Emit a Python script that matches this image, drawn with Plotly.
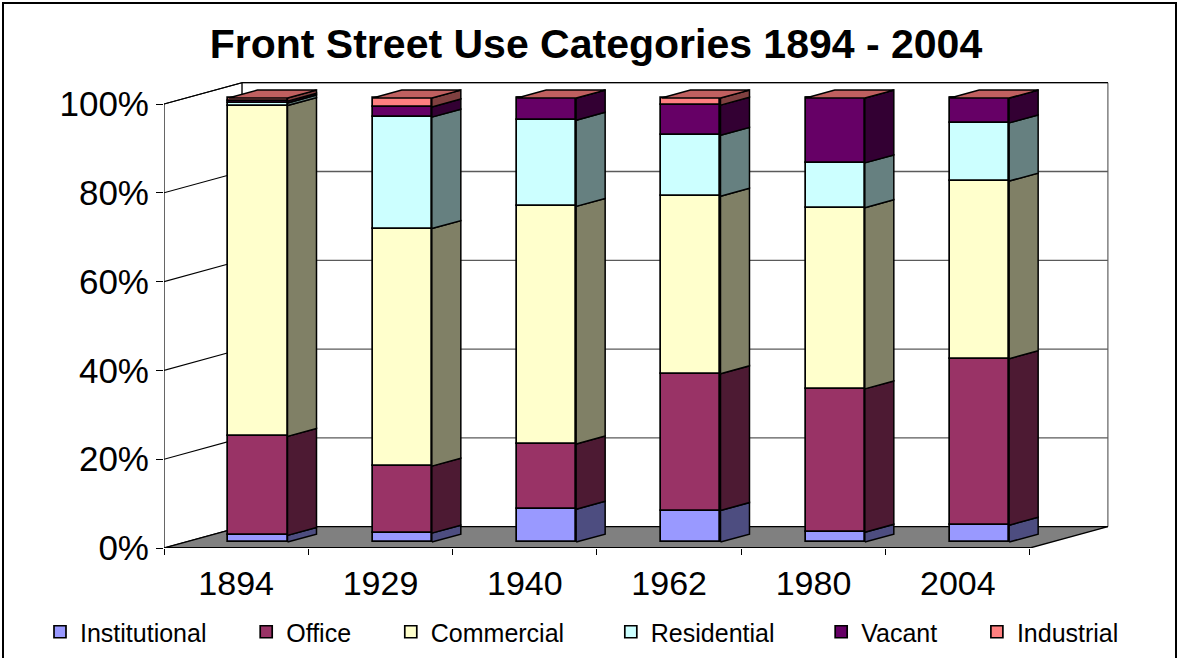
import plotly.graph_objects as go

# ---------------- data ----------------
years = ["1894", "1929", "1940", "1962", "1980", "2004"]
institutional = [1.5, 2.0, 7.4, 7.1, 2.2, 3.8]
office = [22.3, 15.1, 14.7, 30.8, 32.3, 37.5]
commercial = [74.5, 53.5, 53.5, 40.0, 40.8, 40.0]
residential = [0.6, 25.1, 19.4, 13.7, 10.1, 13.1]
vacant = [0.4, 2.3, 5.0, 6.8, 14.6, 5.6]
industrial = [0.7, 2.0, 0.0, 1.6, 0.0, 0.0]
y_ticks = [0, 20, 40, 60, 80, 100]
y_tick_labels = ["0%", "20%", "40%", "60%", "80%", "100%"]

series = [
    ("Institutional", institutional, "#9999FF", "#4D4D80"),
    ("Office", office, "#993366", "#4D1A33"),
    ("Commercial", commercial, "#FFFFCC", "#808066"),
    ("Residential", residential, "#CCFFFF", "#668080"),
    ("Vacant", vacant, "#660066", "#330033"),
    ("Industrial", industrial, "#FF8080", "#804040"),
]
top_color = "#C06060"
legend_pad = [5, 5, 6, 6, 5, 0]   # spacing (non-breaking spaces) after each legend entry

# ---------------- pseudo-3D geometry ----------------
n = len(years)
DX, DY = 0.54, 4.8          # full depth offset (x units, % units)
DF, DB = 0.28, 0.652         # front / back depth of the bars
BW = 0.409                   # bar width
FONT = "Liberation Sans, Arial, sans-serif"

fig = go.Figure()

cum = [0.0] * n
side_traces = []
for k, (name, vals, col, side) in enumerate(series):
    xs = [i + 0.5 + DF * DX for i in range(n)]
    base = [c + DF * DY for c in cum]
    fig.add_trace(go.Bar(
        x=xs, y=vals, base=base, width=BW, name=name + "\u00a0" * legend_pad[k],
        marker=dict(color=col, line=dict(color="black", width=1.7)),
        hoverinfo="skip"))
    sx, sy = [], []
    for i in range(n):
        xr = xs[i] + BW / 2
        ddx = (DB - DF) * DX
        y0, y1 = cum[i], cum[i] + vals[i]
        sx += [xr, xr + ddx, xr + ddx, xr, xr, None]
        sy += [y0 + DF * DY, y0 + DB * DY, y1 + DB * DY, y1 + DF * DY, y0 + DF * DY, None]
    side_traces.append(go.Scatter(x=sx, y=sy, mode="lines", fill="toself",
                                  fillcolor=side, line=dict(color="black", width=1.5),
                                  showlegend=False, hoverinfo="skip"))
    cum = [c + v for c, v in zip(cum, vals)]

for t in side_traces:
    fig.add_trace(t)

# top faces
tx, ty = [], []
for i in range(n):
    xl = i + 0.5 + DF * DX - BW / 2
    xr = xl + BW
    ddx = (DB - DF) * DX
    top = cum[i]
    tx += [xl, xr, xr + ddx, xl + ddx, xl, None]
    ty += [top + DF * DY, top + DF * DY, top + DB * DY, top + DB * DY, top + DF * DY, None]
fig.add_trace(go.Scatter(x=tx, y=ty, mode="lines", fill="toself", fillcolor=top_color,
                         line=dict(color="black", width=1.5), showlegend=False,
                         hoverinfo="skip"))

# ---------------- walls, floor, gridlines ----------------
ymax = y_ticks[-1]
shapes = []
# back wall
shapes.append(dict(type="rect", xref="x", yref="y", x0=DX, x1=n + DX, y0=DY, y1=ymax + DY,
                   fillcolor="white", line=dict(color="#404040", width=1), layer="below"))
# left wall
shapes.append(dict(type="path", xref="x", yref="y",
                   path=f"M0,0 L0,{ymax} L{DX},{ymax + DY} L{DX},{DY} Z",
                   fillcolor="white", line=dict(color="black", width=1.2), layer="below"))
# gridlines
for v in y_ticks[1:]:
    shapes.append(dict(type="line", xref="x", yref="y", x0=0, y0=v, x1=DX, y1=v + DY,
                       line=dict(color="black", width=1.1), layer="below"))
    shapes.append(dict(type="line", xref="x", yref="y", x0=DX, y0=v + DY, x1=n + DX, y1=v + DY,
                       line=dict(color="#5a5a5a" if v < ymax else "black", width=1.3),
                       layer="below"))
# floor
shapes.append(dict(type="path", xref="x", yref="y",
                   path=f"M0,0 L{n},0 L{n + DX},{DY} L{DX},{DY} Z",
                   fillcolor="#808080", line=dict(color="black", width=1.3), layer="below"))
# front floor edge (darker)
shapes.append(dict(type="line", xref="x", yref="y", x0=0, y0=0, x1=n, y1=0,
                   line=dict(color="black", width=2), layer="below"))

# outer chart border
L, R, T, B = 164, 29, 70, 110
W = 1179 - L - R
H = 658 - T - B
shapes.append(dict(type="rect", xref="paper", yref="paper",
                   x0=(3 - L) / W, x1=(1176 - L) / W,
                   y0=(H + T - 662) / H, y1=(H + T - 3) / H,
                   line=dict(color="black", width=2), fillcolor="rgba(0,0,0,0)"))

x_range = [0, W / 144.33]
y_range = [0, H / 4.44]

fig.update_layout(
    width=1179, height=658,
    margin=dict(l=L, r=R, t=T, b=B, autoexpand=False),
    paper_bgcolor="white", plot_bgcolor="white",
    barmode="overlay", bargap=0,
    shapes=shapes,
    font=dict(family=FONT, color="black"),
    title=dict(text="<b>Front Street Use Categories 1894 - 2004</b>",
               font=dict(family=FONT, size=41, color="black"),
               xref="container", x=0.5055, xanchor="center",
               yref="container", y=1 - 44 / 658, yanchor="middle"),
    xaxis=dict(range=x_range, showgrid=False, zeroline=False, showline=False,
               tickmode="array", tickvals=[i + 0.5 for i in range(n)], ticktext=years,
               ticks="", tickfont=dict(size=34, family=FONT), ticklabelstandoff=12,
               minor=dict(tickmode="array", tickvals=list(range(n + 1)), ticks="outside",
                          ticklen=6, tickcolor="black", tickwidth=1, showgrid=False),
               fixedrange=True),
    yaxis=dict(range=y_range, showgrid=False, zeroline=False, showline=False,
               tickmode="array", tickvals=y_ticks, ticktext=y_tick_labels,
               ticks="outside", ticklen=7, tickcolor="black", tickwidth=1,
               tickfont=dict(size=35, family=FONT), fixedrange=True),
    legend=dict(orientation="h", x=(40 - L) / W, xanchor="left",
                y=(H + T - 632) / H, yanchor="middle",
                font=dict(size=25, family=FONT), bgcolor="rgba(0,0,0,0)",
                itemclick=False, itemdoubleclick=False),
    showlegend=True,
)

fig.write_html("out.html", config={"displayModeBar": False},
               post_script="document.body.style.margin='0';document.body.style.padding='0';")
